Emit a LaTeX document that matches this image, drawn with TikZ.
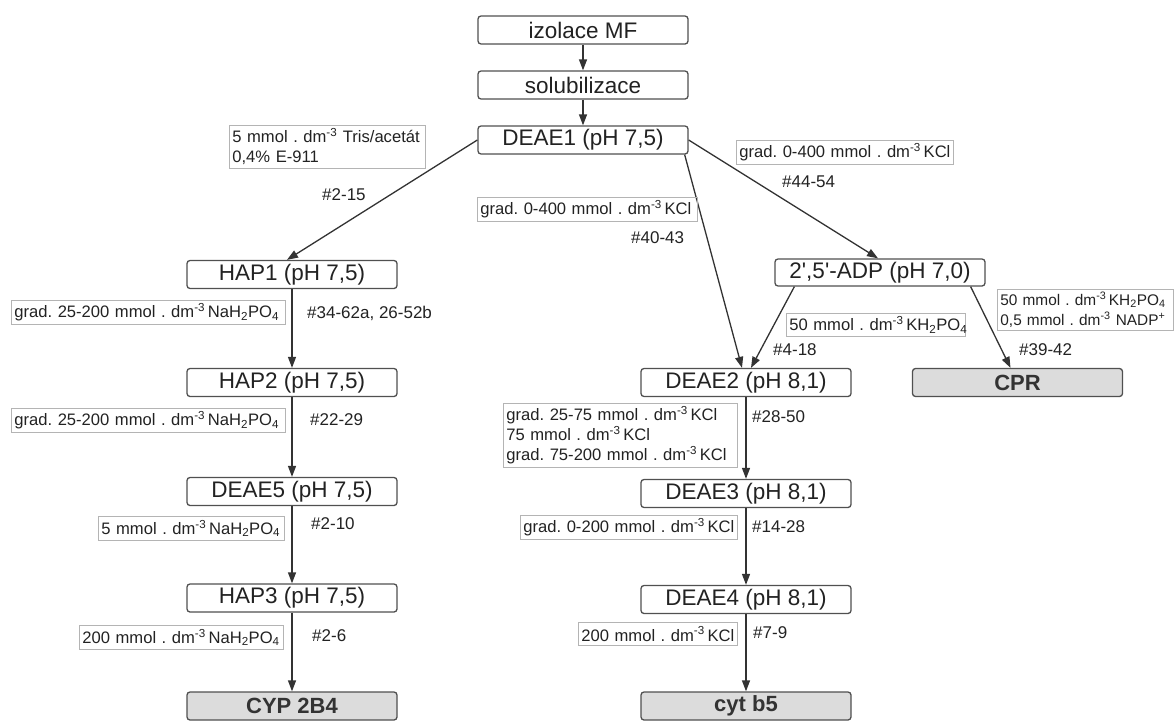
\documentclass[tikz,border=0pt]{standalone}
\usepackage{fontspec}
\setmainfont{Liberation Sans}
\usetikzlibrary{arrows.meta,calc}
\definecolor{linec}{HTML}{333333}
\definecolor{boxc}{HTML}{505050}
\definecolor{lblc}{HTML}{B4B4B4}
\definecolor{txtc}{HTML}{222222}
\definecolor{endfill}{HTML}{DCDCDC}
\definecolor{endtxt}{HTML}{333333}
\newcommand{\dmm}{dm\textsuperscript{-3}}
\frenchspacing
\begin{document}
\begin{tikzpicture}[x=1pt,y=-1pt,
  stepbox/.style={draw=boxc, line width=1.3pt, rounded corners=3pt, fill=white, minimum width=210pt, minimum height=28pt, inner sep=0pt, font=\fontsize{22.5}{27}\selectfont, text=txtc},
  endbox/.style={stepbox, fill=endfill, font=\fontsize{22}{27}\selectfont\bfseries, text=endtxt},
  lbl/.style={draw=lblc, line width=0.8pt, anchor=north west, inner xsep=3pt, inner ysep=3pt, align=left, font=\fontsize{16.6}{20}\selectfont\frenchspacing, text=txtc},
  num/.style={anchor=west, inner sep=0pt, font=\fontsize{17}{20}\selectfont, text=txtc},
  conn/.style={draw=linec, line width=1.3pt, -{Triangle[length=11pt,width=8pt]}},
]
\useasboundingbox (0,0) rectangle (1175,720);

% main boxes
\node[stepbox] (izol) at (583,30) {izolace MF};
\node[stepbox] (solub) at (583,85) {solubilizace};
\node[stepbox] (deae1) at (583,140) {DEAE1 (pH 7,5)};
\node[stepbox] (hap1) at (292,274.5) {HAP1 (pH 7,5)};
\node[stepbox] (hap2) at (292,382.5) {HAP2 (pH 7,5)};
\node[stepbox] (deae5) at (292,491.5) {DEAE5 (pH 7,5)};
\node[stepbox] (hap3) at (292,598) {HAP3 (pH 7,5)};
\node[endbox] (cyp) at (292,706) {CYP 2B4};
\node[stepbox] (deae2) at (746,382.5) {DEAE2 (pH 8,1)};
\node[stepbox] (deae3) at (746,493.5) {DEAE3 (pH 8,1)};
\node[stepbox] (deae4) at (746,599.5) {DEAE4 (pH 8,1)};
\node[endbox] (cytb5) at (746,706) {cyt b5};
\node[stepbox, minimum height=27pt] (adp) at (880,272.5) {2\textquotesingle,5\textquotesingle-ADP (pH 7,0)};
\node[endbox] (cpr) at (1017.5,382.5) {CPR};

% connectors
\draw[conn] (izol) -- (solub);
\draw[conn] (solub) -- (deae1);
\draw[conn] (deae1.west) -- ($(hap1.north)+(-5,0)$);
\draw[conn] ($(deae1.south east)+(-4,0)$) -- ($(deae2.north)+(-4,0)$);
\draw[conn] (deae1.east) -- ($(adp.north)+(-2,0)$);
\draw[conn] ($(adp.south west)+(20,0)$) -- ($(deae2.north)+(5,0)$);
\draw[conn] ($(adp.south east)+(-15,0)$) -- ($(cpr.north)+(-7,0)$);
\draw[conn] (hap1) -- (hap2);
\draw[conn] (hap2) -- (deae5);
\draw[conn] (deae5) -- (hap3);
\draw[conn] (hap3) -- (cyp);
\draw[conn] (deae2) -- (deae3);
\draw[conn] (deae3) -- (deae4);
\draw[conn] (deae4) -- (cytb5);

% condition labels
\node[lbl, text width=190pt] (t1) at (229,125) {\mbox{5 mmol . \dmm\ Tris/acetát}\\\mbox{0,4\% E-911}};
\node[lbl, text width=214pt, minimum height=22pt] (t2) at (477,197) {\mbox{grad. 0-400 mmol . \dmm\,KCl}};
\node[lbl, text width=211pt, minimum height=22pt] (t3) at (736,140) {\mbox{grad. 0-400 mmol . \dmm\,KCl}};
\node[lbl, text width=268pt, minimum height=24pt] (t4) at (11,300) {\mbox{grad. 25-200 mmol . \dmm\,NaH\textsubscript{2}PO\textsubscript{4}}};
\node[lbl, text width=268pt, minimum height=24pt] (t5) at (11,408) {\mbox{grad. 25-200 mmol . \dmm\,NaH\textsubscript{2}PO\textsubscript{4}}};
\node[lbl, text width=180pt, minimum height=24pt] (t6) at (98,516) {\mbox{5 mmol . \dmm\,NaH\textsubscript{2}PO\textsubscript{4}}};
\node[lbl, text width=198pt, minimum height=24pt] (t7) at (79,625) {\mbox{200 mmol . \dmm\,NaH\textsubscript{2}PO\textsubscript{4}}};
\node[lbl, text width=228pt] (t8) at (503,403) {\mbox{grad. 25-75 mmol . \dmm\,KCl}\\\mbox{75 mmol . \dmm\,KCl}\\\mbox{grad. 75-200 mmol . \dmm\,KCl}};
\node[lbl, text width=211pt, minimum height=23pt] (t9) at (520,515) {\mbox{grad. 0-200 mmol . \dmm\,KCl}};
\node[lbl, text width=153pt, minimum height=23pt] (t10) at (578,622) {\mbox{200 mmol . \dmm\,KCl}};
\node[lbl, text width=173pt, minimum height=23pt] (t11) at (786,313) {\mbox{50 mmol . \dmm\,KH\textsubscript{2}PO\textsubscript{4}}};
\node[lbl, text width=170pt, font=\fontsize{15.4}{20}\selectfont] (t12) at (997,289) {\mbox{50 mmol . \dmm\,KH\textsubscript{2}PO\textsubscript{4}}\\\mbox{0,5 mmol . \dmm\ NADP\textsuperscript{+}}};

% fraction numbers
\node[num] (n1) at (322,195) {\#2-15};
\node[num] (n2) at (631,238) {\#40-43};
\node[num] (n3) at (782,182) {\#44-54};
\node[num] (n4) at (307,313) {\#34-62a, 26-52b};
\node[num] (n5) at (310,420) {\#22-29};
\node[num] (n6) at (311,524) {\#2-10};
\node[num] (n7) at (312,636) {\#2-6};
\node[num] (n8) at (752,417) {\#28-50};
\node[num] (n9) at (752,527) {\#14-28};
\node[num] (n10) at (753,633) {\#7-9};
\node[num] (n11) at (773,350) {\#4-18};
\node[num] (n12) at (1019,350) {\#39-42};
\end{tikzpicture}
\end{document}
